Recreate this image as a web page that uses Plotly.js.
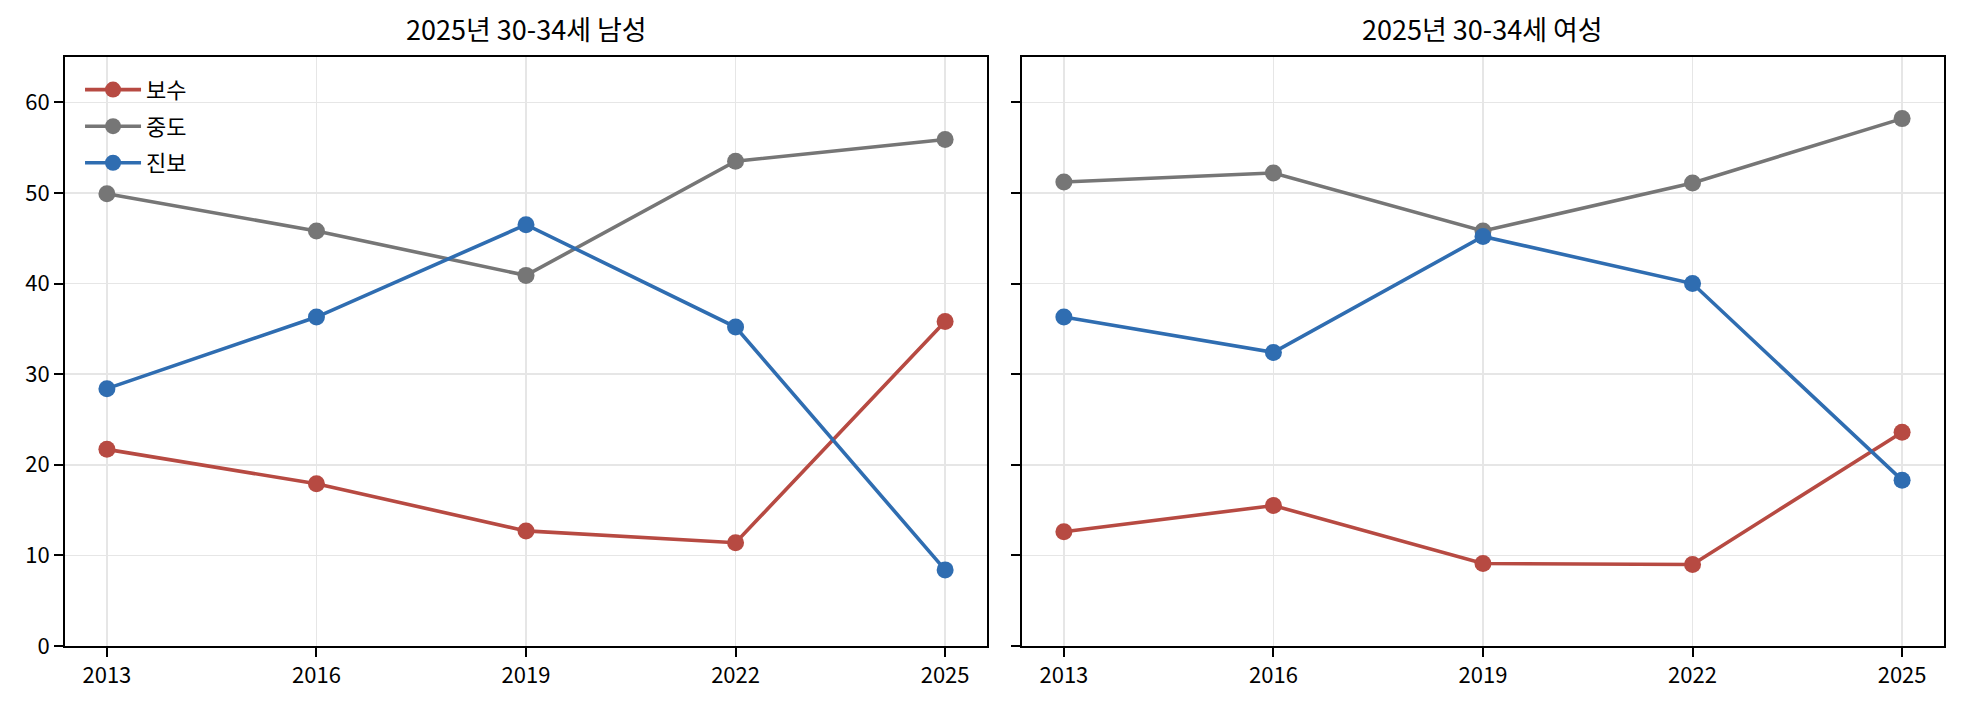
<!DOCTYPE html>
<html>
<head>
<meta charset="utf-8">
<script src="https://cdn.plot.ly/plotly-3.0.1.min.js"></script>
<style>
  html, body { margin: 0; padding: 0; background: white; }
  #chart { width: 1961px; height: 703px; }
</style>
</head>
<body>
<div id="chart"></div>
<script>
// survey years and the two panels
const years = [2013, 2016, 2019, 2022, 2025];
const panelTitles = ['2025년 30-34세 남성', '2025년 30-34세 여성'];
const seriesNames = ['보수', '중도', '진보'];
const seriesColors = ['#b74a42', '#767676', '#2f6db1'];

// 남성
const maleConservative = [21.7, 17.9, 12.7, 11.4, 35.8];
const maleModerate = [49.9, 45.8, 40.9, 53.5, 55.9];
const maleProgressive = [28.4, 36.3, 46.5, 35.2, 8.4];

// 여성
const femaleConservative = [12.6, 15.5, 9.1, 9.0, 23.6];
const femaleModerate = [51.2, 52.2, 45.8, 51.1, 58.2];
const femaleProgressive = [36.3, 32.4, 45.2, 40.0, 18.3];

const FONT = '"Noto Sans CJK KR", "Noto Sans", sans-serif';

const makeTrace = (values, idx, axisSuffix, showLegend) => ({
  x: years,
  y: values,
  xaxis: 'x' + axisSuffix,
  yaxis: 'y' + axisSuffix,
  type: 'scatter',
  mode: 'lines+markers',
  name: seriesNames[idx],
  legendgroup: 'g' + idx,
  showlegend: showLegend,
  line: { color: seriesColors[idx], width: 3.6 },
  marker: { color: seriesColors[idx], size: 17 }
});

const traces = [
  makeTrace(maleConservative, 0, '', true),
  makeTrace(maleModerate, 1, '', true),
  makeTrace(maleProgressive, 2, '', true),
  makeTrace(femaleConservative, 0, '2', false),
  makeTrace(femaleModerate, 1, '2', false),
  makeTrace(femaleProgressive, 2, '2', false)
];

const xAxisBase = {
  range: [2012.4, 2025.6],
  tickvals: years,
  ticks: 'outside',
  ticklen: 9,
  tickwidth: 2,
  tickcolor: 'black',
  showline: true,
  mirror: true,
  linecolor: 'black',
  linewidth: 2,
  showgrid: true,
  gridcolor: '#e6e6e6',
  gridwidth: 1.5,
  zeroline: false,
  tickfont: { family: FONT, size: 22, color: 'black' }
};

const yAxisBase = {
  range: [0, 65],
  tickvals: [0, 10, 20, 30, 40, 50, 60],
  ticks: 'outside',
  ticklen: 9,
  tickwidth: 2,
  tickcolor: 'black',
  showline: true,
  mirror: true,
  linecolor: 'black',
  linewidth: 2,
  showgrid: true,
  gridcolor: '#e6e6e6',
  gridwidth: 1.5,
  zeroline: false,
  tickfont: { family: FONT, size: 22, color: 'black' }
};

const layout = {
  width: 1961,
  height: 703,
  margin: { l: 65, r: 17, t: 57, b: 57 },
  paper_bgcolor: 'white',
  plot_bgcolor: 'white',
  font: { family: FONT, size: 22, color: 'black' },
  xaxis: { ...xAxisBase, domain: [0, 0.4907], anchor: 'y' },
  yaxis: { ...yAxisBase, domain: [0, 1], anchor: 'x' },
  xaxis2: { ...xAxisBase, domain: [0.5093, 1], anchor: 'y2' },
  yaxis2: { ...yAxisBase, domain: [0, 1], anchor: 'x2', showticklabels: false },
  showlegend: true,
  legend: {
    x: 0.008,
    y: 0.98,
    xanchor: 'left',
    yanchor: 'top',
    bgcolor: 'rgba(255,255,255,0)',
    borderwidth: 0,
    itemwidth: 56,
    traceorder: 'grouped',
    tracegroupgap: 5,
    font: { family: FONT, size: 22, color: 'black' }
  },
  annotations: panelTitles.map((t, i) => ({
    text: t,
    xref: (i === 0 ? 'x' : 'x2') + ' domain',
    yref: (i === 0 ? 'y' : 'y2') + ' domain',
    x: 0.5,
    y: 1,
    xanchor: 'center',
    yanchor: 'bottom',
    yshift: 7,
    showarrow: false,
    font: { family: FONT, size: 27, color: 'black' }
  }))
};

Plotly.newPlot('chart', traces, layout, { displayModeBar: false, staticPlot: true });
</script>
</body>
</html>
